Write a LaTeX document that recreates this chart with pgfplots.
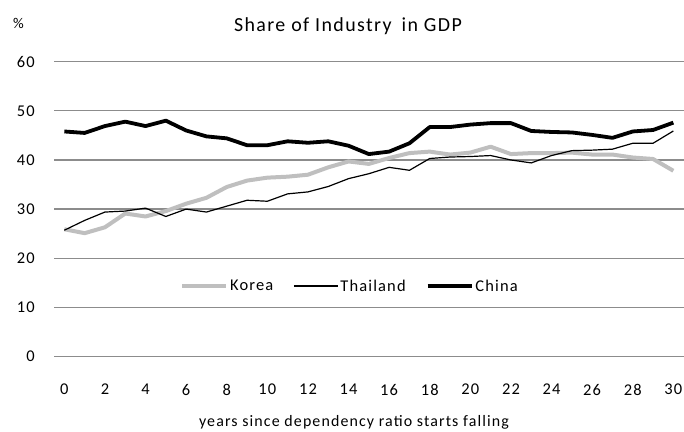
\documentclass[border=0pt]{standalone}
\usepackage{pgfplots}
\pgfplotsset{compat=1.18}
\usepackage{pgfplotstable}
\usepackage{fontspec}
\setmainfont{Carlito}[LetterSpace=7]
\definecolor{korea}{HTML}{BFBFBF}
\definecolor{gridc}{HTML}{8C8C8C}
\pgfplotstableread{
k Korea Thailand China
0 25.9 25.7 45.8
1 25.1 27.7 45.5
2 26.3 29.4 46.9
3 29.1 29.6 47.8
4 28.5 30.2 46.9
5 29.6 28.5 48.0
6 31.1 30.0 46.0
7 32.3 29.4 44.8
8 34.5 30.6 44.4
9 35.8 31.8 43.0
10 36.4 31.6 43.0
11 36.6 33.1 43.8
12 37.0 33.5 43.5
13 38.5 34.6 43.8
14 39.7 36.2 42.9
15 39.2 37.2 41.2
16 40.4 38.5 41.7
17 41.4 37.9 43.4
18 41.7 40.3 46.7
19 41.1 40.6 46.7
20 41.5 40.7 47.2
21 42.7 40.9 47.5
22 41.2 40.0 47.5
23 41.4 39.4 45.9
24 41.4 40.9 45.7
25 41.5 41.9 45.6
26 41.1 42.0 45.1
27 41.1 42.2 44.5
28 40.5 43.4 45.8
29 40.2 43.4 46.1
30 37.8 45.9 47.6
}\datatable
\begin{document}
\begin{tikzpicture}
\path[use as bounding box] (-54.2bp,-75.5bp) rectangle (629.8bp,356.5bp);
\begin{axis}[
  at={(0,0)}, anchor=south west,
  scale only axis,
  width=629.3bp, height=294.8bp,
  xmin=-0.5, xmax=30.5,
  ymin=0, ymax=60,
  xtick={0,2,...,30},
  ytick={0,10,...,60},
  axis line style={draw=none},
  major tick length=0pt,
  ymajorgrids,
  grid style={gridc, line width=1.3bp},
  /pgf/number format/assume math mode=true,
  tick label style={font=\fontsize{16.5}{19}\selectfont, black},
  every y tick label/.append style={xshift=-16bp},
  every x tick label/.append style={yshift=-24bp},
  legend style={at={(0.47,0.239)}, anchor=center, draw=none, fill=none,
    font=\fontsize{16.5}{19}\selectfont, legend columns=3,
    /tikz/every even column/.append style={column sep=18bp}},
  legend image code/.code={\draw[#1] (0bp,0bp) -- (44bp,0bp);},
  clip=false,
]
\addplot[korea, line width=4bp, line join=round] table[x=k, y=Korea] {\datatable};
\addlegendentry{Korea}
\addplot[black, line width=1.2bp, line join=round] table[x=k, y=Thailand] {\datatable};
\addlegendentry{Thailand}
\addplot[black, line width=3.8bp, line join=round] table[x=k, y=China] {\datatable};
\addlegendentry{China}
\draw[gridc, line width=1.3bp] (rel axis cs:0,0) -- (rel axis cs:1,0);
\end{axis}
\node[font=\fontsize{20}{24}\selectfont, anchor=center] at (293.8bp, 330.5bp) {Share of Industry\hspace{0.5em}in GDP};
\node[font=\fontsize{15}{17}\selectfont, anchor=center] at (-35.7bp, 333bp) {\%};
\node[font=\fontsize{16}{19}\selectfont, anchor=center] at (299.8bp, -65.5bp) {years since dependency ratio starts falling};
\end{tikzpicture}
\end{document}
